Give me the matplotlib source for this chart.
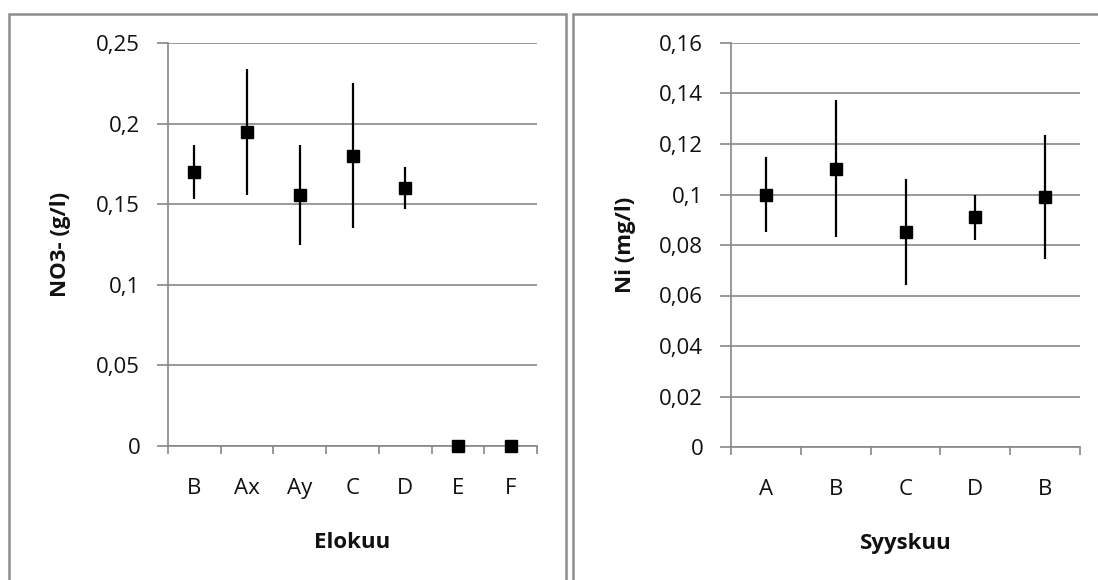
import matplotlib
matplotlib.use("Agg")
import matplotlib.pyplot as plt
from matplotlib.patches import Rectangle
import numpy as np

plt.rcParams['font.family'] = ['Open Sans', 'DejaVu Sans']

# ---- Left chart (Elokuu) ----
left_categories = ["B", "Ax", "Ay", "C", "D", "E", "F"]
left_values = [0.170, 0.195, 0.156, 0.180, 0.160, 0.0, 0.0]
left_err_low = [0.017, 0.039, 0.031, 0.045, 0.013, 0.0, 0.0]
left_err_high = [0.017, 0.039, 0.031, 0.045, 0.013, 0.0, 0.0]
left_yticks = [0, 0.05, 0.1, 0.15, 0.2, 0.25]
left_yticklabels = ["0", "0,05", "0,1", "0,15", "0,2", "0,25"]
left_ylabel = "NO3- (g/l)"
left_xlabel = "Elokuu"

# ---- Right chart (Syyskuu) ----
right_categories = ["A", "B", "C", "D", "B"]
right_values = [0.100, 0.110, 0.085, 0.091, 0.099]
right_err_low = [0.015, 0.027, 0.021, 0.009, 0.0245]
right_err_high = [0.015, 0.0275, 0.021, 0.009, 0.0245]
right_yticks = [0, 0.02, 0.04, 0.06, 0.08, 0.1, 0.12, 0.14, 0.16]
right_yticklabels = ["0", "0,02", "0,04", "0,06", "0,08", "0,1", "0,12", "0,14", "0,16"]
right_ylabel = "Ni (mg/l)"
right_xlabel = "Syyskuu"

W, H = 1098, 580
fig = plt.figure(figsize=(W / 100, H / 100), dpi=100)
fig.patch.set_facecolor("white")

GRID = "#878787"
FS = 16
TXT = "#111111"


def px_rect(x0, y0, x1, y1):
    return [x0 / W, 1 - y1 / H, (x1 - x0) / W, (y1 - y0) / H]


def draw(ax, cats, vals, elo, ehi, yticks, yticklabels, ylabel, xlabel, ylabel_x, xlabel_y):
    n = len(cats)
    x = np.arange(n)
    ax.set_xlim(-0.5, n - 0.5)
    ax.set_ylim(yticks[0], yticks[-1])
    ax.set_yticks(yticks)
    ax.set_yticklabels(yticklabels, fontsize=FS, color=TXT)
    ax.yaxis.grid(True, color=GRID, linewidth=1.2)
    ax.set_axisbelow(True)
    ax.set_xticks(x)
    ax.set_xticklabels(cats, fontsize=FS, color=TXT)
    ax.set_xticks(np.arange(n + 1) - 0.5, minor=True)
    ax.tick_params(axis='x', which='major', length=0, pad=23)
    ax.tick_params(axis='x', which='minor', length=6, width=1.2, color=GRID, direction='out')
    ax.tick_params(axis='y', which='major', length=8, width=1.2, color=GRID, pad=12)
    for s in ("top", "right"):
        ax.spines[s].set_visible(False)
    for s in ("left", "bottom"):
        ax.spines[s].set_color(GRID)
        ax.spines[s].set_linewidth(1.2)
    ax.errorbar(x, vals, yerr=[elo, ehi], fmt='s', color='black', ecolor='black',
                elinewidth=1.6, capsize=0, markersize=9.2, zorder=5, clip_on=False)
    ax.set_ylabel(ylabel, fontsize=FS, fontweight='bold', va='center', color=TXT)
    ax.yaxis.set_label_coords(ylabel_x, 0.5)
    ax.set_xlabel(xlabel, fontsize=FS, fontweight='bold', va='center', color=TXT)
    ax.xaxis.set_label_coords(0.5, xlabel_y)


ax1 = fig.add_axes(px_rect(168, 43, 537, 446))
draw(ax1, left_categories, left_values, left_err_low, left_err_high,
     left_yticks, left_yticklabels, left_ylabel, left_xlabel,
     (61 - 168) / 369, (446 - 543) / 403)

ax2 = fig.add_axes(px_rect(731, 43, 1080, 447))
draw(ax2, right_categories, right_values, right_err_low, right_err_high,
     right_yticks, right_yticklabels, right_ylabel, right_xlabel,
     (625 - 731) / 349, (447 - 543) / 404)

# chart frames
for (x0, x1) in [(9, 566), (573, 1104)]:
    r = Rectangle((x0 / W, -0.05), (x1 - x0) / W, (1 - 14 / H) + 0.05,
                  transform=fig.transFigure, fill=False, edgecolor="#8c8c8c",
                  linewidth=1.8, zorder=0)
    fig.patches.append(r)

fig.savefig("out.png", dpi=100)
